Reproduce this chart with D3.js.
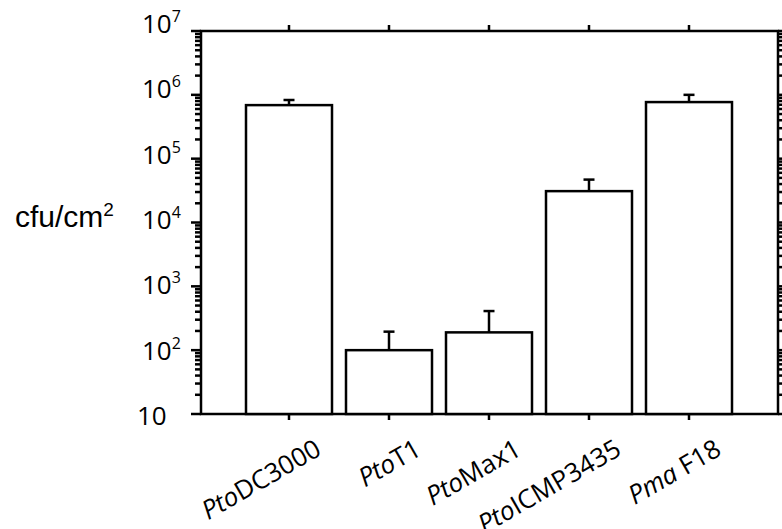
<!DOCTYPE html>
<html>
<head>
<meta charset="utf-8">
<script src="https://cdn.jsdelivr.net/npm/d3@7"></script>
<style>
  body { margin: 0; background: #fff; }
  svg { display: block; }
</style>
</head>
<body>
<svg id="chart" width="782" height="529"></svg>
<script>
// data
const genus = ["Pto", "Pto", "Pto", "Pto", "Pma"];
const strain = ["DC3000", "T1", "Max1", "ICMP3435", " F18"];
const meanCfu = [6.9e5, 100, 190, 3.1e4, 7.7e5];
const upperCfu = [8.3e5, 195, 410, 4.7e4, 1.0e6];
const decadeTicks = [10, 1e2, 1e3, 1e4, 1e5, 1e6, 1e7];
const decadeExp = ["", "2", "3", "4", "5", "6", "7"];

const svg = d3.select("#chart");
const plotL = 201, plotR = 778, plotT = 31, plotB = 414;

const cats = strain.map((s, i) => i);
const x = d3.scaleBand().domain(cats).range([239, 739])
    .paddingInner(0.14).paddingOuter(0.07);
const y = d3.scaleLog().domain([10, 1e7]).range([plotB, plotT]);
// labels were placed a little apart from the ticks in the original
const yLab = d3.scaleLog().domain([10, 1e7]).range([425, 33]);

const minor = [];
for (let e = 1; e < 7; e++)
  for (let m = 2; m < 10; m++) minor.push(m * Math.pow(10, e));

const cx = i => x(i) + x.bandwidth() / 2;

function hTicks(vals, x0, len) {
  svg.append("g").selectAll("line").data(vals).join("line")
    .attr("x1", x0).attr("x2", x0 + len)
    .attr("y1", d => y(d)).attr("y2", d => y(d))
    .attr("stroke", "#000").attr("stroke-width", 2.5);
}
function vTicks(y0, len) {
  svg.append("g").selectAll("line").data(cats).join("line")
    .attr("x1", cx).attr("x2", cx)
    .attr("y1", y0).attr("y2", y0 + len)
    .attr("stroke", "#000").attr("stroke-width", 2.5);
}

hTicks(minor, plotL, -6);
hTicks(decadeTicks, plotL, -10);
hTicks(minor, plotR, 6);
hTicks(decadeTicks, plotR, 10);
vTicks(plotB, 6);
vTicks(plotT, -6);

// frame
svg.append("rect")
  .attr("x", plotL).attr("y", plotT)
  .attr("width", plotR - plotL).attr("height", plotB - plotT)
  .attr("fill", "none").attr("stroke", "#000").attr("stroke-width", 2.5);

// bars
svg.selectAll("rect.bar").data(meanCfu).enter().append("rect")
  .attr("class", "bar")
  .attr("x", (d, i) => x(i))
  .attr("y", d => y(d))
  .attr("width", x.bandwidth())
  .attr("height", d => plotB - y(d))
  .attr("fill", "#fff").attr("stroke", "#000").attr("stroke-width", 2.5);

// error bars
const eb = svg.selectAll("g.err").data(upperCfu).enter().append("g").attr("class", "err");
eb.append("line")
  .attr("x1", (d, i) => cx(i)).attr("x2", (d, i) => cx(i))
  .attr("y1", (d, i) => y(meanCfu[i]))
  .attr("y2", d => y(d))
  .attr("stroke", "#000").attr("stroke-width", 2.5);
eb.append("line")
  .attr("x1", (d, i) => cx(i) - 5.5).attr("x2", (d, i) => cx(i) + 5.5)
  .attr("y1", d => y(d)).attr("y2", d => y(d))
  .attr("stroke", "#000").attr("stroke-width", 2.5);

// y tick labels
const yl = svg.selectAll("text.ylab").data(decadeTicks).enter().append("text")
  .attr("class", "ylab")
  .attr("x", (d, i) => i === 0 ? 137 : 142)
  .attr("y", d => yLab(d))
  .attr("font-family", "Open Sans")
  .attr("font-size", 26)
  .attr("fill", "#000");
yl.append("tspan").text("10");
yl.append("tspan")
  .attr("font-size", 16)
  .attr("dy", -11)
  .text((d, i) => decadeExp[i]);

// y axis title
const yt = svg.append("text")
  .attr("x", 15).attr("y", 227)
  .attr("font-family", "Liberation Sans, Arial")
  .attr("font-size", 30)
  .attr("fill", "#000");
yt.append("tspan").text("cfu/cm");
yt.append("tspan").attr("font-size", 19).attr("dy", -11).text("2");

// x labels
const xl = svg.selectAll("text.xlab").data(cats).enter().append("text")
  .attr("class", "xlab")
  .attr("text-anchor", "end")
  .attr("transform", i => `translate(${cx(i) + 34},${plotB + 40}) rotate(-30)`)
  .attr("font-family", "Open Sans")
  .attr("font-size", 26)
  .attr("fill", "#000");
xl.append("tspan").attr("font-style", "italic").text(i => genus[i]);
xl.append("tspan").attr("xml:space", "preserve").text(i => strain[i]);
</script>
</body>
</html>
